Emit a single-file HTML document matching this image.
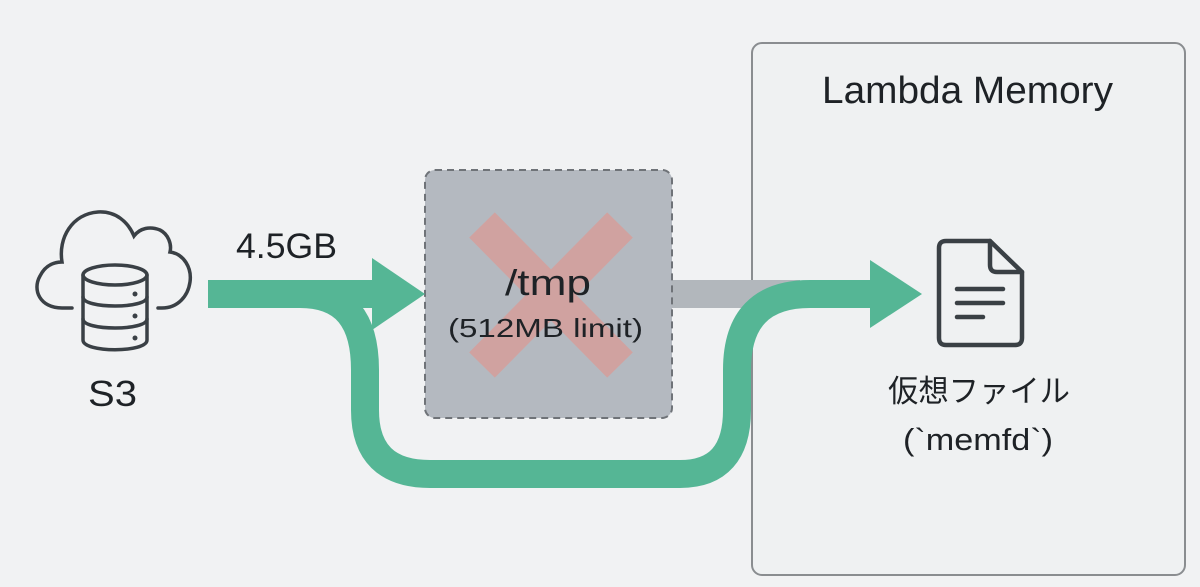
<!DOCTYPE html>
<html><head><meta charset="utf-8"><style>
html,body{margin:0;padding:0;background:#f1f2f3;}
svg{display:block;}
text{font-family:"Liberation Sans","Noto Sans CJK JP",sans-serif;fill:#1e2226;}
</style></head><body>
<svg width="1200" height="587" viewBox="0 0 1200 587" xmlns="http://www.w3.org/2000/svg">
<rect width="1200" height="587" fill="#f1f2f3"/>
<!-- Lambda memory box -->
<rect x="752" y="43" width="433" height="532" rx="10" fill="#eff1f2" stroke="#8a8d90" stroke-width="2"/>
<text x="822" y="103" font-size="38" textLength="291" lengthAdjust="spacingAndGlyphs">Lambda Memory</text>
<!-- gray bar -->
<rect x="670" y="280" width="130" height="28" fill="#b2b7bc"/>
<!-- tmp box -->
<rect x="425" y="170" width="247" height="248" rx="10" fill="#b4b9c0" stroke="#6f7378" stroke-width="2" stroke-dasharray="7,5"/>
<g stroke="#d4a09d" stroke-width="36" opacity="0.9">
<line x1="482" y1="225" x2="620" y2="365"/>
<line x1="620" y1="225" x2="482" y2="365"/>
</g>
<text x="505" y="295" font-size="36" textLength="86" lengthAdjust="spacingAndGlyphs" fill="#2a2e33">/tmp</text>
<text x="448" y="337" font-size="26" textLength="195" lengthAdjust="spacingAndGlyphs" fill="#2a2e33">(512MB limit)</text>
<!-- green bypass path -->
<path d="M208 294 H300 C345 294 365 320 365 370 V410 Q365 474 430 474 H680 Q737 474 737 410 V370 Q737 294 810 294 H872" fill="none" stroke="#55b695" stroke-width="28"/>
<polygon points="870,260 922,294 870,328" fill="#55b695"/>
<!-- top arrow -->
<rect x="208" y="280" width="165" height="28" fill="#55b695"/>
<polygon points="372,258 425,294 372,330" fill="#55b695"/>
<text x="236" y="258" font-size="35" textLength="101" lengthAdjust="spacingAndGlyphs">4.5GB</text>
<!-- S3 icon -->
<g fill="none" stroke="#3a4045" stroke-width="3.5" stroke-linecap="round">
<path d="M72 308 H62 C40 308 32 290 40 276 C46 264 56 262 62 262 C58 238 72 214 98 212 C116 211 128 222 134 236 C140 228 150 226 160 230 C168 234 172 244 170 252 C184 254 192 268 190 282 C188 296 178 308 162 308 H158"/>
<ellipse cx="115" cy="275" rx="32" ry="10"/>
<path d="M83 275 V340 C83 353 147 353 147 340 V275"/>
<path d="M83 297 C83 309 147 309 147 297"/>
<path d="M83 319 C83 331 147 331 147 319"/>
</g>
<g fill="#3a4045"><circle cx="135" cy="294" r="2.5"/><circle cx="135" cy="316" r="2.5"/><circle cx="135" cy="338" r="2.5"/></g>
<text x="88" y="406" font-size="36" textLength="49" lengthAdjust="spacingAndGlyphs">S3</text>
<!-- file icon -->
<g fill="none" stroke="#3a4045" stroke-width="4.5" stroke-linejoin="round" stroke-linecap="round">
<path d="M990 241 H946 Q939 241 939 248 V338 Q939 345 946 345 H1015 Q1022 345 1022 338 V272 Z"/>
<path d="M990 241 V265 Q990 272 997 272 H1022"/>
<line x1="957" y1="289" x2="1003" y2="289"/>
<line x1="957" y1="303" x2="1003" y2="303"/>
<line x1="957" y1="317" x2="983" y2="317"/>
</g>
<text x="888" y="402" font-size="31" textLength="182" lengthAdjust="spacingAndGlyphs">仮想ファイル</text>
<text x="903" y="450" font-size="31" textLength="150" lengthAdjust="spacingAndGlyphs">(`memfd`)</text>
</svg>
</body></html>
